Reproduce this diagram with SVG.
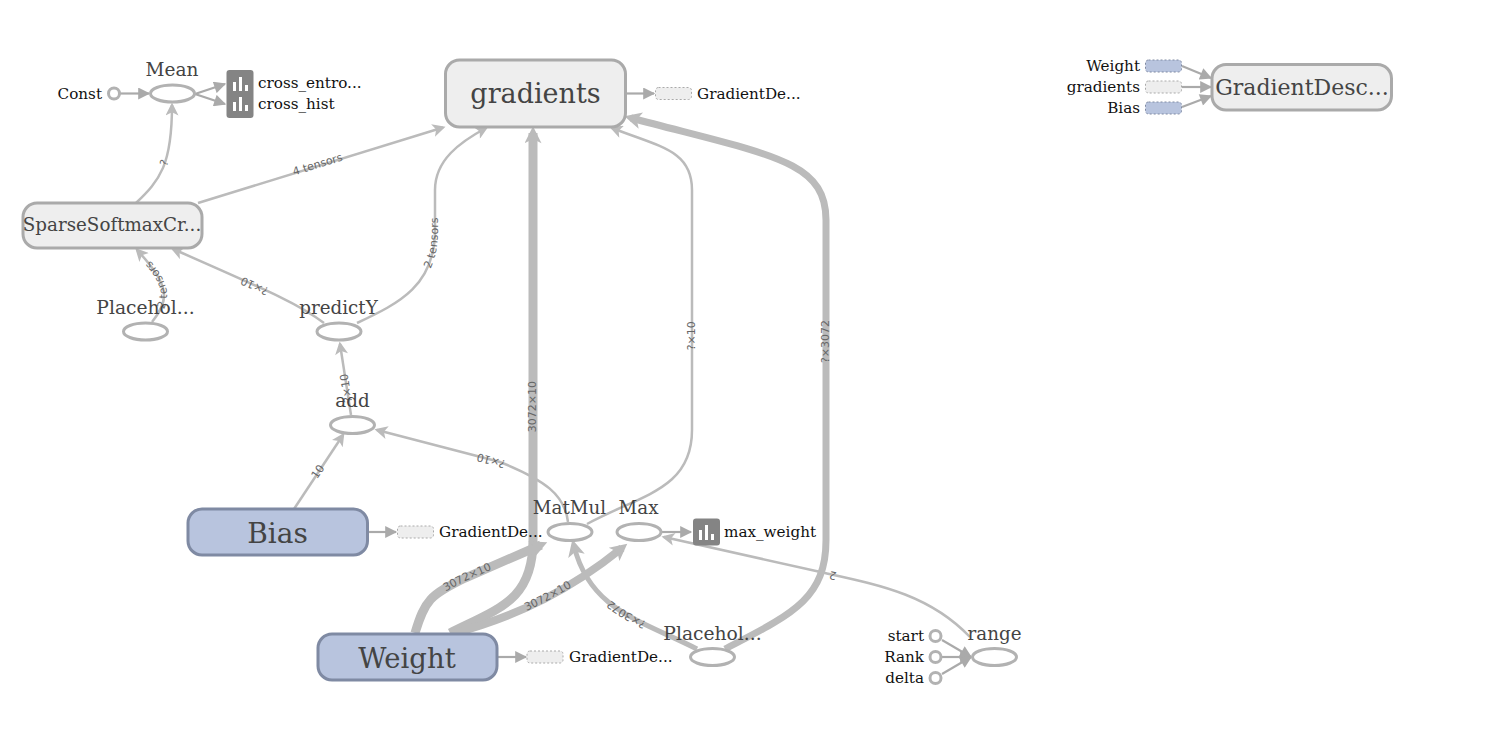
<svg xmlns="http://www.w3.org/2000/svg" xmlns:xlink="http://www.w3.org/1999/xlink" width="1489" height="749" viewBox="0 0 1489 749">
<style>
text{font-family:"DejaVu Serif",serif}
.e{fill:none;stroke:#bbb;stroke-width:2.5;marker-end:url(#a)}
.a{fill:none;stroke:#aaa;stroke-width:2.2;marker-end:url(#t)}
.l{font-family:"DejaVu Sans",sans-serif;font-size:11px;fill:#666;text-anchor:middle}
.n{fill:#444;text-anchor:middle}
.x{fill:#111;font-size:15.200px}
.m{fill:#eee;stroke:#aaa;stroke-width:3}
.b{fill:#b8c4de;stroke:#7f8aa3;stroke-width:3}
.o{fill:#fff;stroke:#b2b2b2;stroke-width:3}
.c{fill:#fff;stroke:#b2b2b2;stroke-width:3}
.dm{fill:#eee;stroke:#aaa;stroke-width:1;stroke-dasharray:2 2}
.db{fill:#b8c4de;stroke:#7f8aa3;stroke-width:1;stroke-dasharray:2 2}
.s{fill:#848484}
.w{fill:#fff}
</style>
<defs>
<marker id="a" markerUnits="userSpaceOnUse" viewBox="0 0 10 10" refX="8" refY="5" markerWidth="14" markerHeight="13" orient="auto"><path d="M0,0L10,5L0,10L2.5,5z" fill="#bbb"/></marker>
<marker id="a2" markerUnits="userSpaceOnUse" viewBox="0 0 10 10" refX="6" refY="5" markerWidth="19" markerHeight="17" orient="auto"><path d="M0,0L10,5L0,10L2.5,5z" fill="#bbb"/></marker>
<marker id="t" markerUnits="userSpaceOnUse" viewBox="0 0 10 10" refX="9" refY="5" markerWidth="13" markerHeight="12" orient="auto"><path d="M0,0L10,5L0,10z" fill="#aaa"/></marker>
</defs>
<g id="connectors">
<path class="a" d="M120,93.500L149,93.500"/>
<path class="a" d="M195,94L225,84"/>
<path class="a" d="M195,94L225,104"/>
<path class="e" id="p1" d="M136,203C160,180 172,165 172,105"/>
<path class="e" id="p2" d="M198,203L443,127.500"/>
<path class="e" id="p3" d="M324,323C300,305 280,296 173,249"/>
<path class="e" id="p4" d="M357,323C400,303 435,285 435,230L435,190C435,160 460,142 486,128"/>
<path class="e" id="p5" d="M152,322C170,300 170,285 137,250"/>
<path class="e" id="p6" d="M351,415L340,344"/>
<path class="e" id="p7" d="M294,509L343,435"/>
<path class="e" id="p8" d="M568,522C565,495 545,480 500,462L377,430"/>
<path class="e" id="p9" d="M587,524C640,495 692,490 692,430L692,190C692,150 660,147 612,128"/>
<path class="e" id="p10" style="stroke-width:9;marker-end:url(#a2)" d="M450,633C500,608 533,600 533,540L533,133"/>
<path class="e" id="p11" style="stroke-width:9;marker-end:url(#a2)" d="M415,633C425,600 430,595 465,578L541,545"/>
<path class="e" id="p12" style="stroke-width:8;marker-end:url(#a2)" d="M455,633C520,615 570,590 622,548"/>
<path class="e" id="p13" style="stroke-width:5;marker-end:url(#a2)" d="M697,649C640,620 590,610 574,546"/>
<path class="e" id="p14" style="stroke-width:7;marker-end:url(#a2)" d="M725,649C790,615 826,600 826,540L826,220C826,160 770,155 631,118"/>
<path class="e" id="p15" d="M970,637C930,595 880,585 825,573L664,537"/>
<path class="a" d="M942,640L971,657"/>
<path class="a" d="M942,657L971,657"/>
<path class="a" d="M942,674L971,657"/>
<path class="a" d="M626,93.500L654,93.500"/>
<path class="a" d="M368,532L396,532"/>
<path class="a" d="M498,657L526,657"/>
<path class="a" d="M662,532L691,532"/>
<path class="a" d="M1182,66L1211,78"/>
<path class="a" d="M1182,87L1211,87"/>
<path class="a" d="M1182,107L1211,96"/>
<text class="l"><textPath xlink:href="#p1" href="#p1" startOffset="46%"><tspan dy="3">?</tspan></textPath></text>
<text class="l"><textPath xlink:href="#p2" href="#p2" startOffset="49%"><tspan dy="2">4 tensors</tspan></textPath></text>
<text class="l"><textPath xlink:href="#p3" href="#p3" startOffset="47%"><tspan dy="3">?×10</tspan></textPath></text>
<text class="l"><textPath xlink:href="#p4" href="#p4" startOffset="46%"><tspan dy="3">2 tensors</tspan></textPath></text>
<text class="l"><textPath xlink:href="#p5" href="#p5" startOffset="50%"><tspan dy="3">2 tensors</tspan></textPath></text>
<text class="l"><textPath xlink:href="#p6" href="#p6" startOffset="38%"><tspan dy="3">?×10</tspan></textPath></text>
<text class="l"><textPath xlink:href="#p7" href="#p7" startOffset="50%"><tspan dy="3">10</tspan></textPath></text>
<text class="l"><textPath xlink:href="#p8" href="#p8" startOffset="47%"><tspan dy="3">?×10</tspan></textPath></text>
<text class="l"><textPath xlink:href="#p9" href="#p9" startOffset="49%"><tspan dy="3">?×10</tspan></textPath></text>
<text class="l"><textPath xlink:href="#p10" href="#p10" startOffset="49.500%"><tspan dy="3">3072×10</tspan></textPath></text>
<text class="l"><textPath xlink:href="#p11" href="#p11" startOffset="50%"><tspan dy="3">3072×10</tspan></textPath></text>
<text class="l"><textPath xlink:href="#p12" href="#p12" startOffset="53%"><tspan dy="3">3072×10</tspan></textPath></text>
<text class="l"><textPath xlink:href="#p13" href="#p13" startOffset="47%"><tspan dy="3">?×3072</tspan></textPath></text>
<text class="l"><textPath xlink:href="#p14" href="#p14" startOffset="50%"><tspan dy="3">?×3072</tspan></textPath></text>
<text class="l"><textPath xlink:href="#p15" href="#p15" startOffset="47%"><tspan dy="3">2</tspan></textPath></text>
</g>
<g id="node-gradients"><rect class="m" x="445.500" y="60" width="180" height="67" rx="14"/><text class="n" x="535.500" y="103" font-size="27">gradients</text></g>
<g id="node-gradients-out"><rect class="dm" x="655.500" y="87.500" width="36" height="12" rx="3"/><text class="x" x="697" y="99">GradientDe...</text></g>
<g id="node-GradientDescent"><rect class="m" x="1212" y="64.500" width="179.500" height="45.500" rx="14"/><text class="n" x="1302" y="95" font-size="22">GradientDesc...</text></g>
<g id="node-gd-Weight"><rect class="db" x="1145.500" y="60" width="36" height="12" rx="3"/><text class="x" x="1140" y="71" text-anchor="end">Weight</text></g>
<g id="node-gd-gradients"><rect class="dm" x="1145.500" y="81" width="36" height="12" rx="3"/><text class="x" x="1140" y="92" text-anchor="end">gradients</text></g>
<g id="node-gd-Bias"><rect class="db" x="1145.500" y="102" width="36" height="12" rx="3"/><text class="x" x="1140" y="113" text-anchor="end">Bias</text></g>
<g id="node-Mean"><ellipse class="o" cx="172.500" cy="93.500" rx="22" ry="8.500"/><text class="n" x="172" y="76" font-size="18.500">Mean</text></g>
<g id="node-Const"><circle class="c" cx="114" cy="93.500" r="5.500"/><text class="x" x="102" y="99" text-anchor="end">Const</text></g>
<g id="node-cross"><rect class="s" x="226.500" y="70" width="27" height="48" rx="3"/>
<path class="w" d="M233,82h3v9h-3zM239,77h3v14h-3zM245,85h3v6h-3zM233,102h3v9h-3zM239,97h3v14h-3zM245,105h3v6h-3z"/>
<text class="x" x="258" y="88">cross_entro...</text><text class="x" x="258" y="109">cross_hist</text></g>
<g id="node-Sparse"><rect class="m" x="23" y="203" width="179" height="45" rx="14"/><text class="n" x="112" y="231" font-size="18.300">SparseSoftmaxCr...</text></g>
<g id="node-Placeholder"><ellipse class="o" cx="145.500" cy="331.500" rx="22" ry="8.500"/><text class="n" x="145.500" y="314" font-size="18.700">Placehol...</text></g>
<g id="node-predictY"><ellipse class="o" cx="339" cy="331.500" rx="22" ry="8.500"/><text class="n" x="338.500" y="314" font-size="18.300">predictY</text></g>
<g id="node-add"><ellipse class="o" cx="352.500" cy="425" rx="22" ry="8.500"/><text class="n" x="352.500" y="407" font-size="18.300">add</text></g>
<g id="node-Bias"><rect class="b" x="188" y="509" width="179.500" height="46" rx="14"/><text class="n" x="277.500" y="543" font-size="28">Bias</text></g>
<g id="node-bias-out"><rect class="dm" x="397.500" y="526" width="36" height="12" rx="3"/><text class="x" x="439" y="537">GradientDe...</text></g>
<g id="node-MatMul"><ellipse class="o" cx="570" cy="532" rx="22" ry="8.500"/><text class="n" x="569.500" y="514" font-size="18.300">MatMul</text></g>
<g id="node-Max"><ellipse class="o" cx="639" cy="532" rx="22" ry="8.500"/><text class="n" x="638.500" y="514" font-size="18.300">Max</text></g>
<g id="node-max_weight"><rect class="s" x="693" y="518.500" width="27" height="27" rx="3"/><path class="w" d="M699,530h3v10h-3zM705,525h3v15h-3zM711,534h3v6h-3z"/><text class="x" x="724" y="537">max_weight</text></g>
<g id="node-Weight"><rect class="b" x="318" y="634" width="179" height="46" rx="14"/><text class="n" x="407" y="668" font-size="27.500">Weight</text></g>
<g id="node-weight-out"><rect class="dm" x="527" y="651" width="36" height="12" rx="3"/><text class="x" x="569" y="662">GradientDe...</text></g>
<g id="node-Placeholder2"><ellipse class="o" cx="712.500" cy="657" rx="22" ry="8.500"/><text class="n" x="712.500" y="640" font-size="18.700">Placehol...</text></g>
<g id="node-range"><ellipse class="o" cx="994.500" cy="657" rx="22" ry="8.500"/><text class="n" x="994.500" y="640" font-size="18.300">range</text></g>
<g id="node-start"><circle class="c" cx="935.500" cy="636" r="5.500"/><text class="x" x="924" y="641" text-anchor="end">start</text></g>
<g id="node-Rank"><circle class="c" cx="935.500" cy="657" r="5.500"/><text class="x" x="924" y="662" text-anchor="end">Rank</text></g>
<g id="node-delta"><circle class="c" cx="935.500" cy="678" r="5.500"/><text class="x" x="924" y="683" text-anchor="end">delta</text></g>
</svg>
